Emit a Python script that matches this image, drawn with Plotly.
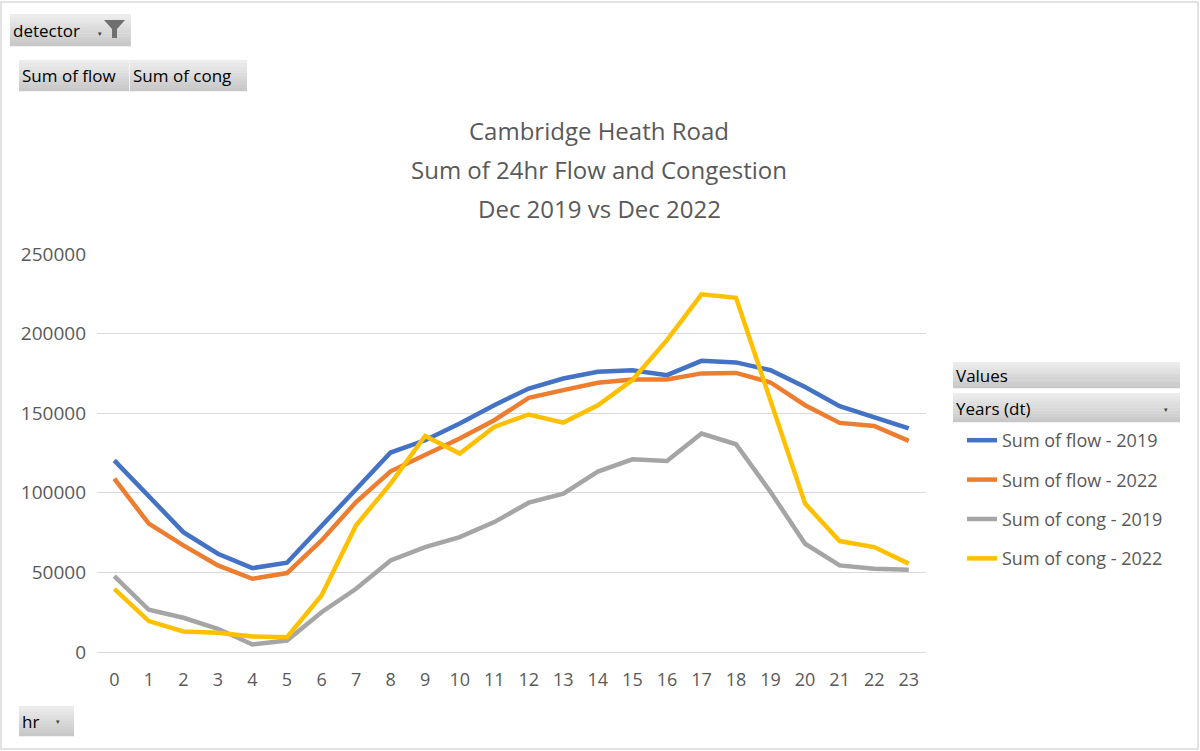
import plotly.graph_objects as go

# hourly values
hours = [str(h) for h in range(24)]

flow_2019 = [120400, 97400, 75300, 61700, 52700, 56100, 79500, 102600, 125300, 133000,
             143500, 155000, 165500, 171800, 176000, 177000, 173900, 182900, 181900, 177000,
             166500, 154400, 147700, 140400]
flow_2022 = [108900, 80600, 67000, 54400, 46000, 49600, 70100, 94200, 113500, 123600,
             134100, 145600, 159600, 164500, 169100, 171200, 171200, 175000, 175300, 169300,
             155000, 143900, 142000, 132600]
cong_2019 = [47700, 26500, 21500, 14600, 4700, 7200, 25000, 39700, 57500, 65900,
             72200, 81600, 93800, 99500, 113300, 121000, 120000, 137200, 130500, 100500,
             68000, 54400, 52300, 51700]
cong_2022 = [39700, 19400, 12900, 12100, 9700, 9300, 35500, 79600, 105800, 135700,
             124700, 141400, 149200, 144100, 155000, 170800, 195900, 224700, 222500, 157500,
             93200, 69700, 65900, 55500]

series_names = ["Sum of flow - 2019", "Sum of flow - 2022", "Sum of cong - 2019", "Sum of cong - 2022"]
series_values = [flow_2019, flow_2022, cong_2019, cong_2022]
series_colors = ["#4472C4", "#ED7D31", "#A5A5A5", "#FFC000"]

title_lines = ["Cambridge Heath Road", "Sum of 24hr Flow and Congestion", "Dec 2019 vs Dec 2022"]

FONT = "Open Sans"
GREY_TXT = "#595959"

# plot area in pixels
W, H = 1200, 751
L, R, T, B = 97, 926, 254, 652


def px(x):
    return (x - L) / (R - L)


def py(y):
    return (B - y) / (B - T)


fig = go.Figure()

for i, (name, vals, col) in enumerate(zip(series_names, series_values, series_colors)):
    fig.add_trace(go.Scatter(
        x=hours, y=vals, name=name, mode="lines",
        line=dict(color=col, width=4.5),
        legendgroup=str(i),
    ))


def button(x0, y0, x1, y1):
    # pivot field button with a rough vertical gradient (light top, darker bottom)
    n = 10
    h = (y1 - y0) / n
    for k in range(n):
        g = int(236 - k * 36 / (n - 1))
        fig.add_shape(type="rect", xref="paper", yref="paper",
                      x0=px(x0), x1=px(x1), y0=py(y0 + k * h), y1=py(y0 + (k + 1) * h + 0.3),
                      fillcolor=f"rgb({g},{g},{g})", line_width=0, layer="below")


def label(x, y, text, size=17, color="#000000", anchor="left"):
    fig.add_annotation(xref="paper", yref="paper", x=px(x), y=py(y), text=text,
                       showarrow=False, xanchor=anchor, yanchor="middle",
                       font=dict(family=FONT, size=size, color=color))


# outer border
fig.add_shape(type="rect", xref="paper", yref="paper",
              x0=px(1), x1=px(1198), y0=py(2), y1=py(749),
              line=dict(color="#D9D9D9", width=1.5), layer="below")

# chart title, one annotation per line for Excel-like spacing
for line, ty in zip(title_lines, [130, 169, 208]):
    label(599, ty, line, size=24, color=GREY_TXT, anchor="center")

# field buttons
button(10, 14, 131, 46)
label(11, 31, "detector")
label(100, 33, "▾", size=7, color="#404040", anchor="center")
fig.add_shape(type="path", xref="paper", yref="paper",
              path=f"M {px(104)} {py(20)} L {px(125)} {py(20)} L {px(117)} {py(29)} "
                   f"L {px(117)} {py(38)} L {px(112)} {py(38)} L {px(112)} {py(29)} Z",
              fillcolor="#6f6f6f", line_width=0)

button(19, 60, 129, 91)
button(130, 60, 247, 91)
fig.add_shape(type="line", xref="paper", yref="paper",
              x0=px(129.5), x1=px(129.5), y0=py(60), y1=py(91),
              line=dict(color="#f4f4f4", width=1))
label(20, 76, "Sum of flow")
label(131, 76, "Sum of cong")

button(19, 706, 74, 736)
label(20, 721, "hr")
label(58, 721, "▾", size=7, color="#404040", anchor="center")

button(953, 362, 1180, 388)
label(954, 375, "Values")
button(953, 393, 1180, 422)
label(954, 408, "Years (dt)")
label(1166, 409, "▾", size=7, color="#404040", anchor="center")

fig.update_layout(
    width=W, height=H,
    margin=dict(l=L, r=W - R, t=T, b=H - B, autoexpand=False),
    paper_bgcolor="white", plot_bgcolor="white",
    font=dict(family=FONT, color=GREY_TXT),
    xaxis=dict(
        type="category", range=[-0.5, 23.5],
        showgrid=False, showline=True, linecolor="#D9D9D9", linewidth=1,
        ticks="", tickfont=dict(size=18, color=GREY_TXT),
        ticklabelstandoff=11, fixedrange=True,
    ),
    yaxis=dict(
        range=[0, 250000], dtick=50000, tickformat="d",
        showgrid=True, gridcolor="#D9D9D9", gridwidth=1, zeroline=False,
        ticks="", tickfont=dict(size=19, color=GREY_TXT),
        ticklabelstandoff=10, fixedrange=True,
    ),
    legend=dict(
        x=px(962), y=py(422), xanchor="left", yanchor="top",
        font=dict(family=FONT, size=18, color=GREY_TXT),
        traceorder="grouped", tracegroupgap=13,
        bgcolor="rgba(0,0,0,0)", itemwidth=30,
    ),
    showlegend=True,
)

# drop the default 8px body margin so the figure fills the window
fig.write_html("out.html", config={"displayModeBar": False},
               post_script="document.body.style.margin='0';")
